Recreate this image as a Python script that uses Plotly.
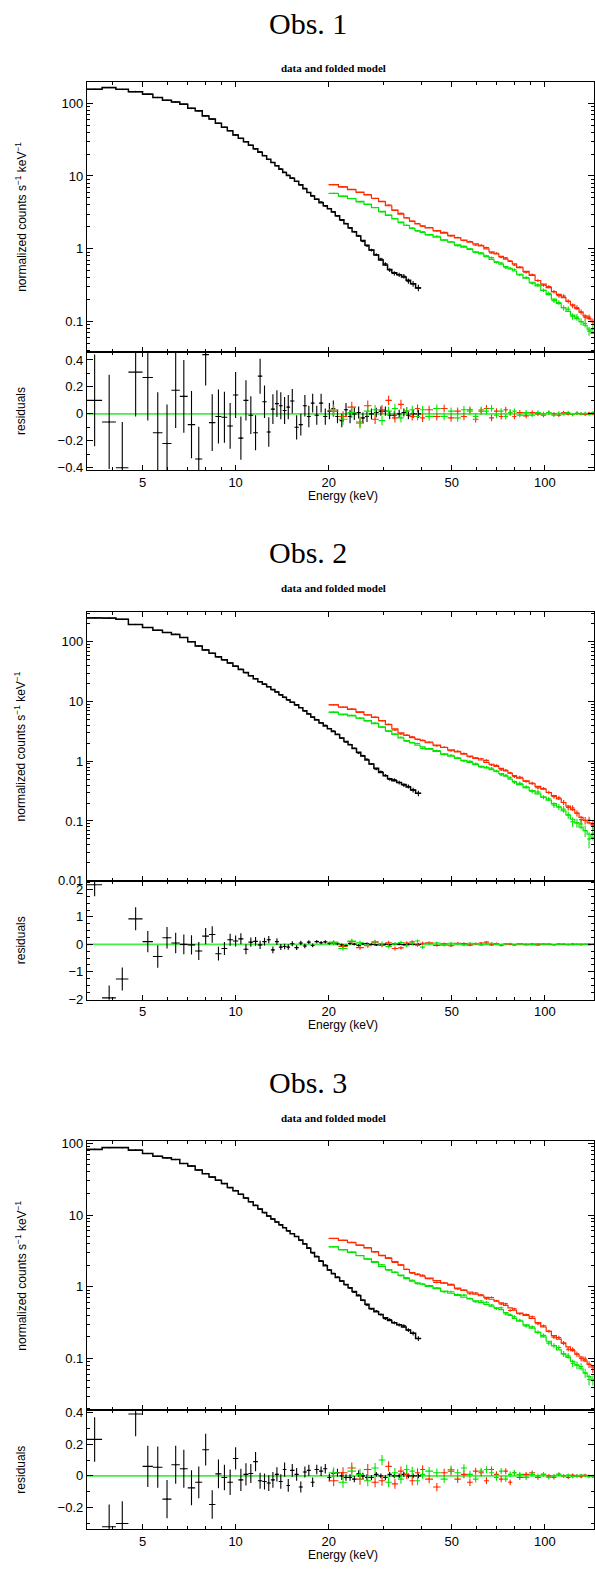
import plotly.graph_objects as go

W, H = 595, 1572
RED = '#ff2a00'
GREEN = '#00e600'
BLACK = '#000000'
ZERO = '#44ee44'
SANS = 'Liberation Sans, Arial, Helvetica, sans-serif'
SERIF = 'Liberation Serif, Times New Roman, serif'

# ---------------- energy bins (keV) ----------------
black_edges = [3.3, 3.7, 4.1, 4.5, 5.0, 5.4, 5.8, 6.2, 6.6, 7.0,
               7.4, 7.8, 8.2, 8.6, 9.0, 9.4, 9.8, 10.2, 10.6, 11.0,
               11.4, 11.8, 12.2, 12.6, 13.0, 13.4, 13.8, 14.2, 14.6, 15.0,
               15.5, 16.0, 16.5, 17.0, 17.5, 18.0, 18.6, 19.2, 19.8, 20.4,
               21.0, 21.7, 22.4, 23.1, 23.8, 24.6, 25.4, 26.2, 27.0, 28.0,
               29.0, 30.0, 31.0, 32.0, 33.2, 34.4, 35.6, 36.8, 38.2, 39.8]
hard_edges = [20.0, 21.5, 23.0, 24.5, 26.0, 27.5, 29.0, 30.5, 32.0, 33.5,
              35.0, 36.5, 38.0, 39.5, 41.0, 43.5, 46.0, 48.5, 51.0, 53.5,
              56.0, 58.5, 61.0, 63.5, 66.0, 68.5, 71.0, 73.5, 76.0, 78.5,
              81.0, 85.0, 89.0, 93.0, 97.0, 101.0, 105.0, 109.0, 113.0, 117.0,
              121.0, 125.0, 129.0, 133.0, 137.0, 141.0, 145.0, 149.0]

# ---------------- Obs. 1 ----------------
obs1_black = [155, 164, 155, 144, 133, 120, 110, 104, 97, 85,
              78.5, 67, 60.5, 53, 46.6, 41.9, 36.6, 33, 29.5, 26.5,
              23.7, 21.2, 19.0, 17.0, 15.3, 13.8, 12.4, 11.2, 10.2, 9.3,
              8.5, 7.6, 6.7, 5.95, 5.3, 4.8, 4.3, 3.9, 3.55, 3.2,
              2.85, 2.5, 2.2, 1.95, 1.72, 1.5, 1.3, 1.12, 0.96, 0.82,
              0.7, 0.6, 0.52, 0.47, 0.44, 0.41, 0.37, 0.33, 0.29]
obs1_black_res = [0.10, -0.06, -0.40, 0.31, 0.27, -0.14, -0.22, 0.175, 0.13, -0.08,
                  -0.335, 0.44, -0.065, -0.02, -0.025, -0.09, 0.14, -0.18, 0.10, -0.01,
                  -0.14, 0.28, 0.09, -0.135, 0.035, 0.076, 0.06, 0.025, 0.05, 0.095,
                  -0.10, -0.08, 0.06, -0.02, 0.08, -0.01, 0.08, -0.02, 0.02, 0.04,
                  -0.02, -0.05, 0.03, -0.02, 0.0, 0.01, -0.03, -0.02, 0.0, 0.01,
                  0.02, 0.02, -0.01, -0.01, 0.0, 0.01, -0.01, 0.0, 0.0]
obs1_black_err = [0.34, 0.35, 0.34, 0.33, 0.32, 0.30, 0.29, 0.28, 0.27, 0.25,
                  0.24, 0.23, 0.21, 0.20, 0.19, 0.17, 0.17, 0.16, 0.15, 0.14,
                  0.13, 0.13, 0.12, 0.11, 0.11, 0.10, 0.10, 0.10, 0.09, 0.09,
                  0.09, 0.08, 0.08, 0.08, 0.07, 0.07, 0.07, 0.06, 0.06, 0.06,
                  0.05, 0.05, 0.05, 0.05, 0.045, 0.045, 0.04, 0.04, 0.04, 0.035,
                  0.035, 0.035, 0.03, 0.03, 0.03, 0.03, 0.03, 0.03, 0.03]
obs1_red = [7.6, 7.1, 6.5, 6.0, 5.5, 4.95, 4.45, 3.9, 3.4, 3.0,
            2.65, 2.4, 2.19, 2.07, 1.93, 1.78, 1.64, 1.53, 1.41, 1.32,
            1.23, 1.17, 1.10, 1.0, 0.91, 0.85, 0.785, 0.72, 0.67, 0.62,
            0.55, 0.49, 0.43, 0.367, 0.327, 0.292, 0.257, 0.237, 0.214, 0.19,
            0.17, 0.151, 0.135, 0.12, 0.11, 0.1, 0.091]
obs1_green = [5.75, 5.3, 4.9, 4.47, 4.07, 3.67, 3.27, 2.88, 2.57, 2.32,
              2.09, 1.9, 1.78, 1.68, 1.57, 1.45, 1.33, 1.23, 1.135, 1.05,
              0.98, 0.91, 0.85, 0.78, 0.716, 0.66, 0.617, 0.57, 0.53, 0.495,
              0.447, 0.394, 0.347, 0.309, 0.269, 0.234, 0.204, 0.178, 0.155, 0.138,
              0.123, 0.11, 0.1, 0.089, 0.079, 0.069, 0.063]
obs1_red_res = [0.02, -0.02, 0.05, -0.06, 0.06, -0.04, 0.03, 0.10, -0.03, 0.07,
                0.02, -0.02, 0.04, -0.03, 0.03, -0.02, 0.04, -0.03, 0.02, -0.02,
                0.03, -0.04, 0.02, 0.04, -0.03, 0.02, -0.02, 0.03, 0.01, -0.02,
                0.01, -0.015, 0.01, 0.0, -0.01, 0.01, 0.0, -0.01, 0.01, 0.0,
                -0.005, 0.005, 0.0, -0.005, 0.005, 0.0, 0.0]
obs1_green_res = [0.03, -0.04, 0.01, -0.07, 0.02, 0.03, -0.05, 0.02, 0.04, -0.03,
                  0.02, 0.03, -0.02, 0.03, -0.02, 0.04, -0.02, 0.02, -0.03, 0.03,
                  0.02, -0.02, 0.03, 0.02, 0.04, -0.01, 0.02, -0.02, 0.01, 0.02,
                  -0.01, 0.01, -0.01, 0.01, 0.0, 0.01, -0.01, 0.005, 0.0, 0.01,
                  -0.005, 0.005, 0.0, 0.005, -0.005, 0.01, 0.0]
obs1_hard_err = [0.04, 0.04, 0.04, 0.04, 0.04, 0.035, 0.035, 0.035, 0.035, 0.035,
                 0.03, 0.03, 0.03, 0.03, 0.03, 0.03, 0.028, 0.028, 0.028, 0.028,
                 0.025, 0.025, 0.025, 0.025, 0.025, 0.022, 0.022, 0.022, 0.022, 0.02,
                 0.018, 0.018, 0.016, 0.016, 0.015, 0.015, 0.014, 0.014, 0.013, 0.013,
                 0.012, 0.012, 0.011, 0.011, 0.01, 0.01, 0.01]

# ---------------- Obs. 2 ----------------
obs2_black = [250, 250, 238, 194, 173, 156, 143, 133, 118, 100,
              85, 73, 64, 56, 50, 44, 39, 34.5, 30.5, 27,
              24, 21.5, 19.5, 17.6, 15.9, 14.4, 13.0, 11.8, 10.7, 9.7,
              8.8, 7.9, 7.0, 6.2, 5.5, 4.9, 4.35, 3.9, 3.5, 3.15,
              2.8, 2.45, 2.15, 1.88, 1.64, 1.42, 1.22, 1.05, 0.9, 0.76,
              0.65, 0.57, 0.51, 0.47, 0.44, 0.41, 0.37, 0.33, 0.29]
obs2_black_res = [2.17, -1.95, -1.26, 0.93, 0.10, -0.44, 0.24, 0.05, 0.0, -0.02,
                  -0.24, 0.30, 0.36, -0.34, -0.15, 0.17, 0.12, 0.20, -0.18, 0.08,
                  0.11, -0.02, 0.10, 0.17, -0.20, 0.10, -0.10, -0.08, -0.10, 0.02,
                  -0.12, 0.05, -0.06, 0.08, -0.04, 0.10, 0.06, 0.09, 0.04, 0.06,
                  0.02, -0.02, -0.05, 0.03, 0.01, -0.04, 0.02, 0.03, 0.0, -0.02,
                  0.02, 0.01, -0.01, 0.02, 0.0, -0.01, 0.01, 0.0, 0.0]
obs2_black_err = [0.42, 0.45, 0.42, 0.42, 0.39, 0.41, 0.39, 0.37, 0.36, 0.35,
                  0.33, 0.30, 0.30, 0.25, 0.24, 0.22, 0.20, 0.20, 0.18, 0.17,
                  0.16, 0.15, 0.14, 0.13, 0.12, 0.12, 0.11, 0.10, 0.10, 0.09,
                  0.09, 0.08, 0.08, 0.07, 0.07, 0.06, 0.06, 0.06, 0.05, 0.05,
                  0.05, 0.05, 0.045, 0.045, 0.04, 0.04, 0.04, 0.035, 0.035, 0.035,
                  0.03, 0.03, 0.03, 0.03, 0.03, 0.03, 0.03, 0.03, 0.03]
obs2_red = [8.8, 8.1, 7.4, 6.7, 6.0, 5.4, 4.8, 4.1, 3.5, 3.0,
            2.7, 2.48, 2.34, 2.21, 2.04, 1.86, 1.70, 1.55, 1.43, 1.32,
            1.22, 1.12, 1.05, 0.955, 0.89, 0.82, 0.76, 0.69, 0.63, 0.575,
            0.52, 0.47, 0.42, 0.38, 0.34, 0.30, 0.266, 0.234, 0.204, 0.178,
            0.155, 0.135, 0.115, 0.102, 0.093, 0.086, 0.079]
obs2_green = [6.6, 6.17, 5.75, 5.25, 4.79, 4.27, 3.72, 3.24, 2.82, 2.45,
              2.21, 2.02, 1.86, 1.74, 1.6, 1.46, 1.33, 1.22, 1.12, 1.035,
              0.955, 0.88, 0.82, 0.776, 0.724, 0.676, 0.624, 0.562, 0.5, 0.457,
              0.407, 0.363, 0.324, 0.285, 0.251, 0.224, 0.195, 0.172, 0.148, 0.126,
              0.107, 0.093, 0.079, 0.069, 0.06, 0.052, 0.047]
obs2_red_res = [0.05, -0.08, 0.10, -0.12, -0.05, 0.08, -0.04, 0.06, -0.15, -0.13,
                0.05, 0.09, -0.03, 0.04, 0.06, -0.04, 0.02, -0.05, 0.04, 0.03,
                -0.03, 0.02, 0.05, 0.08, -0.02, 0.03, -0.04, 0.02, 0.01, -0.02,
                0.02, -0.01, 0.01, -0.02, 0.01, 0.0, -0.01, 0.01, 0.0, -0.01,
                0.01, 0.0, -0.01, 0.0, 0.01, 0.0, -0.01]
obs2_green_res = [0.08, -0.15, 0.12, 0.06, -0.04, 0.10, 0.03, -0.08, 0.02, 0.07,
                  -0.05, 0.04, 0.12, -0.10, 0.03, 0.05, -0.03, 0.04, 0.02, -0.02,
                  0.04, 0.03, -0.02, 0.02, 0.04, 0.01, -0.03, 0.02, 0.03, -0.01,
                  0.02, 0.01, -0.01, 0.02, 0.0, 0.01, -0.01, 0.0, 0.01, 0.0,
                  -0.01, 0.0, 0.01, 0.0, -0.01, 0.01, 0.0]
obs2_hard_err = [0.08, 0.08, 0.08, 0.08, 0.07, 0.07, 0.07, 0.07, 0.07, 0.06,
                 0.06, 0.06, 0.06, 0.06, 0.05, 0.05, 0.05, 0.05, 0.045, 0.045,
                 0.04, 0.04, 0.04, 0.04, 0.035, 0.035, 0.035, 0.03, 0.03, 0.03,
                 0.03, 0.025, 0.025, 0.025, 0.02, 0.02, 0.02, 0.02, 0.02, 0.018,
                 0.018, 0.016, 0.016, 0.015, 0.015, 0.015, 0.015]

# ---------------- Obs. 3 ----------------
obs3_black = [82, 87, 87, 80, 72, 66, 62.7, 59.4, 52.3, 48.1,
              42.4, 37.7, 33.9, 30.5, 27.4, 24.1, 21.8, 19.4, 17.2, 15.3,
              13.6, 12.1, 10.8, 9.7, 8.8, 8.0, 7.3, 6.65, 6.05, 5.5,
              5.0, 4.5, 3.95, 3.45, 3.0, 2.62, 2.27, 1.97, 1.72, 1.52,
              1.35, 1.2, 1.08, 0.97, 0.86, 0.75, 0.65, 0.57, 0.5, 0.45,
              0.41, 0.37, 0.34, 0.315, 0.295, 0.275, 0.25, 0.225, 0.19]
obs3_black_res = [0.23, -0.32, -0.30, 0.39, 0.06, 0.055, -0.146, 0.07, 0.045, -0.075,
                  -0.04, 0.165, -0.18, 0.013, -0.01, -0.04, 0.11, -0.025, 0.01, 0.015,
                  0.09, -0.03, -0.035, -0.045, -0.025, 0.01, -0.035, 0.04, -0.06, 0.035,
                  0.01, -0.07, 0.025, 0.035, -0.04, 0.04, 0.03, 0.045, -0.01, 0.015,
                  0.02, 0.0, -0.01, -0.01, -0.02, 0.015, 0.0, -0.01, -0.01, 0.01,
                  0.0, -0.01, 0.01, 0.0, 0.0, 0.01, 0.0, 0.0, 0.0]
obs3_black_err = [0.14, 0.14, 0.14, 0.14, 0.13, 0.13, 0.12, 0.12, 0.12, 0.11,
                  0.10, 0.10, 0.09, 0.09, 0.08, 0.08, 0.07, 0.07, 0.07, 0.06,
                  0.06, 0.05, 0.05, 0.05, 0.05, 0.045, 0.045, 0.045, 0.04, 0.04,
                  0.04, 0.035, 0.035, 0.035, 0.03, 0.03, 0.03, 0.03, 0.025, 0.025,
                  0.025, 0.025, 0.02, 0.02, 0.02, 0.02, 0.02, 0.02, 0.015, 0.015,
                  0.015, 0.015, 0.015, 0.015, 0.015, 0.015, 0.015, 0.015, 0.015]
obs3_red = [4.73, 4.42, 4.12, 3.8, 3.47, 3.09, 2.75, 2.48, 2.24, 2.0,
            1.74, 1.58, 1.48, 1.41, 1.32, 1.22, 1.12, 1.05, 0.955, 0.89,
            0.84, 0.79, 0.75, 0.71, 0.67, 0.63, 0.596, 0.55, 0.507, 0.473,
            0.43, 0.4, 0.363, 0.316, 0.275, 0.24, 0.209, 0.186, 0.164, 0.145,
            0.129, 0.115, 0.105, 0.093, 0.083, 0.076, 0.069]
obs3_green = [3.59, 3.31, 3.02, 2.72, 2.45, 2.19, 1.93, 1.74, 1.58, 1.45,
              1.3, 1.2, 1.135, 1.084, 1.01, 0.944, 0.871, 0.813, 0.759, 0.716,
              0.676, 0.638, 0.603, 0.569, 0.537, 0.507, 0.479, 0.437, 0.398, 0.363,
              0.331, 0.295, 0.266, 0.232, 0.2, 0.174, 0.151, 0.132, 0.116, 0.104,
              0.091, 0.081, 0.072, 0.063, 0.056, 0.05, 0.045]
obs3_red_res = [-0.03, 0.02, 0.05, -0.02, 0.04, -0.04, -0.03, 0.06, -0.05, 0.03,
                0.01, -0.03, 0.02, 0.04, -0.02, -0.07, 0.02, 0.03, -0.02, 0.01,
                -0.04, 0.03, 0.02, -0.03, 0.04, 0.01, -0.02, 0.03, -0.04, 0.02,
                -0.01, 0.01, 0.02, -0.01, 0.01, 0.0, -0.01, 0.01, 0.0, -0.01,
                0.005, 0.0, -0.005, 0.005, 0.0, -0.005, 0.0]
obs3_green_res = [0.02, -0.04, 0.03, 0.01, -0.03, 0.05, 0.10, -0.04, 0.02, -0.02,
                  0.04, 0.03, -0.03, 0.01, 0.03, 0.02, -0.02, 0.04, 0.02, 0.05,
                  0.01, -0.02, 0.03, 0.04, 0.02, -0.01, 0.03, -0.02, 0.01, 0.02,
                  0.01, -0.01, 0.01, 0.0, 0.01, -0.01, 0.0, 0.01, 0.0, 0.005,
                  -0.005, 0.0, 0.005, 0.0, -0.005, 0.0, 0.0]
obs3_hard_err = [0.035, 0.035, 0.035, 0.035, 0.035, 0.032, 0.032, 0.032, 0.03, 0.03,
                 0.03, 0.028, 0.028, 0.028, 0.026, 0.026, 0.025, 0.025, 0.024, 0.024,
                 0.023, 0.022, 0.022, 0.021, 0.02, 0.02, 0.02, 0.019, 0.018, 0.018,
                 0.016, 0.015, 0.014, 0.014, 0.013, 0.012, 0.012, 0.011, 0.011, 0.01,
                 0.01, 0.01, 0.009, 0.009, 0.009, 0.008, 0.008]

titles = ['Obs. 1', 'Obs. 2', 'Obs. 3']
subtitle = 'data and folded model'
x_tickvals = [5, 10, 20, 50, 100]
x_ticktext = ['5', '10', '20', '50', '100']
x_minor = [4, 6, 7, 8, 9, 30, 40, 60, 70, 80, 90]
upper_tickvals = [[0.1, 1, 10, 100], [0.01, 0.1, 1, 10, 100], [0.1, 1, 10, 100]]
upper_ticktext = [['0.1', '1', '10', '100'], ['0.01', '0.1', '1', '10', '100'], ['0.1', '1', '10', '100']]
res_tickvals = [[-0.4, -0.2, 0, 0.2, 0.4], [-2, -1, 0, 1, 2], [-0.2, 0, 0.2, 0.4]]
res_ticktext = [['\u22120.4', '\u22120.2', '0', '0.2', '0.4'],
                ['\u22122', '\u22121', '0', '1', '2'],
                ['\u22120.2', '0', '0.2', '0.4']]
res_minor_dtick = [0.1, 0.25, 0.1]

observations = [
    (obs1_black, obs1_black_res, obs1_black_err, obs1_red, obs1_green,
     obs1_red_res, obs1_green_res, obs1_hard_err),
    (obs2_black, obs2_black_res, obs2_black_err, obs2_red, obs2_green,
     obs2_red_res, obs2_green_res, obs2_hard_err),
    (obs3_black, obs3_black_res, obs3_black_err, obs3_red, obs3_green,
     obs3_red_res, obs3_green_res, obs3_hard_err),
]

# ---------------- layout geometry (pixels) ----------------
panel_px = [(77.7, 349.3, 469.0), (611.7, 882.7, 1002.3), (1145.0, 1416.0, 1536.0)]
upper_range = [(-1.413, 2.29), (-2.004, 2.498), (-1.72, 2.028)]
res_range = [(-0.42, 0.462), (-2.015, 2.31), (-0.336, 0.414)]
title_px = [19, 551.5, 1086]
sub_px = [63, 587, 1122]
xtitle_px = [494.5, 1028, 1561.5]
X_RANGE = [0.5189, 2.159]
X_DOM = [87 / W, 1.0]

minor_log = [k * 10 ** d for d in range(-3, 4) for k in range(2, 10)]


def fy(px):
    return 1 - px / H


def centers(edges):
    return [(a + b) / 2 for a, b in zip(edges[:-1], edges[1:])]


def halfw(edges):
    return [(b - a) / 2 for a, b in zip(edges[:-1], edges[1:])]


def cross(edges, y, err, color, xa, ya, logy, th=1.1):
    em = [min(e, 0.97 * v) for e, v in zip(err, y)] if logy else err
    return go.Scatter(
        x=centers(edges), y=y, mode='markers',
        marker=dict(size=1.5, color=color),
        error_x=dict(type='data', array=halfw(edges), width=0, thickness=th, color=color),
        error_y=dict(type='data', array=err, arrayminus=em, symmetric=False,
                     width=0, thickness=th, color=color),
        xaxis=xa, yaxis=ya, showlegend=False, hoverinfo='skip')


def step(edges, y, color, xa, ya, w=1.3):
    return go.Scatter(x=edges, y=list(y) + [y[-1]], mode='lines', line_shape='hv',
                      line=dict(color=color, width=w), xaxis=xa, yaxis=ya,
                      showlegend=False, hoverinfo='skip')


fig = go.Figure()
layout = dict(width=W, height=H, margin=dict(l=0, r=0, t=0, b=0),
              paper_bgcolor='white', plot_bgcolor='white', showlegend=False)
annotations = []
shapes = []

axis_common = dict(showline=True, linecolor='black', linewidth=1, mirror='ticks',
                   ticks='inside', tickcolor='black', tickwidth=1, showgrid=False,
                   zeroline=False, tickfont=dict(family=SANS, size=13, color='black'))

for i, obs in enumerate(observations):
    (blk, blk_res, blk_err, red, grn, red_res, grn_res, h_err) = obs
    ku, kr = 2 * i + 1, 2 * i + 2
    xu = 'x' if ku == 1 else 'x%d' % ku
    yu = 'y' if ku == 1 else 'y%d' % ku
    xr, yr = 'x%d' % kr, 'y%d' % kr
    top, mid, bot = panel_px[i]

    # upper panel: data and folded model
    blk_data = [m + r for m, r in zip(blk, blk_res)]
    red_data = [m + r for m, r in zip(red, red_res)]
    grn_data = [m + r for m, r in zip(grn, grn_res)]
    fig.add_trace(cross(black_edges, blk_data, blk_err, BLACK, xu, yu, True))
    fig.add_trace(step(black_edges, blk, BLACK, xu, yu, 1.5))
    fig.add_trace(cross(hard_edges, red_data, h_err, RED, xu, yu, True))
    fig.add_trace(step(hard_edges, red, RED, xu, yu, 1.2))
    fig.add_trace(cross(hard_edges, grn_data, h_err, GREEN, xu, yu, True))
    fig.add_trace(step(hard_edges, grn, GREEN, xu, yu, 1.2))

    # residual panel
    fig.add_trace(cross(black_edges, blk_res, blk_err, BLACK, xr, yr, False))
    fig.add_trace(cross(hard_edges, red_res, h_err, RED, xr, yr, False))
    fig.add_trace(cross(hard_edges, grn_res, h_err, GREEN, xr, yr, False))

    shapes.append(dict(type='line', xref='%s domain' % xr, yref=yr, x0=0, x1=1, y0=0, y1=0,
                       line=dict(color=ZERO, width=1.6), layer='below'))

    xkey_u = 'xaxis' if ku == 1 else 'xaxis%d' % ku
    ykey_u = 'yaxis' if ku == 1 else 'yaxis%d' % ku
    layout[xkey_u] = dict(axis_common, type='log', range=X_RANGE, domain=X_DOM, anchor=yu,
                          tickvals=x_tickvals, ticktext=x_ticktext, ticklen=5,
                          showticklabels=False,
                          minor=dict(ticks='inside', ticklen=3, tickvals=x_minor,
                                     tickcolor='black', showgrid=False))
    layout[ykey_u] = dict(axis_common, type='log', range=list(upper_range[i]),
                          domain=[fy(mid), fy(top)], anchor=xu,
                          tickvals=upper_tickvals[i], ticktext=upper_ticktext[i], ticklen=6,
                          minor=dict(ticks='inside', ticklen=3, tickvals=minor_log,
                                     tickcolor='black', showgrid=False))
    layout['xaxis%d' % kr] = dict(axis_common, type='log', range=X_RANGE, domain=X_DOM,
                                  anchor=yr, tickvals=x_tickvals, ticktext=x_ticktext,
                                  ticklen=5,
                                  minor=dict(ticks='inside', ticklen=3, tickvals=x_minor,
                                             tickcolor='black', showgrid=False))
    layout['yaxis%d' % kr] = dict(axis_common, range=list(res_range[i]),
                                  domain=[fy(bot), fy(mid)], anchor=xr,
                                  tickvals=res_tickvals[i], ticktext=res_ticktext[i], ticklen=6,
                                  minor=dict(ticks='inside', ticklen=3, dtick=res_minor_dtick[i],
                                             tick0=0, tickcolor='black', showgrid=False))

    annotations += [
        dict(text=titles[i], x=309 / W, y=fy(title_px[i]), xref='paper', yref='paper',
             showarrow=False, xanchor='center', yanchor='middle',
             font=dict(family=SERIF, size=30, color='black')),
        dict(text='<b>%s</b>' % subtitle, x=334.5 / W, y=fy(sub_px[i]), xref='paper',
             yref='paper', showarrow=False, xanchor='center', yanchor='middle',
             font=dict(family=SERIF, size=11, color='black')),
        dict(text='normalized counts s<sup>\u22121</sup> keV<sup>\u22121</sup>',
             x=21 / W, y=fy((top + mid) / 2), xref='paper', yref='paper', textangle=-90,
             showarrow=False, xanchor='center', yanchor='middle',
             font=dict(family=SANS, size=12, color='black')),
        dict(text='residuals', x=21 / W, y=fy((mid + bot) / 2), xref='paper', yref='paper',
             textangle=-90, showarrow=False, xanchor='center', yanchor='middle',
             font=dict(family=SANS, size=12, color='black')),
        dict(text='Energy (keV)', x=344 / W, y=fy(xtitle_px[i]), xref='paper', yref='paper',
             showarrow=False, xanchor='center', yanchor='middle',
             font=dict(family=SANS, size=12, color='black')),
    ]

layout['annotations'] = annotations
layout['shapes'] = shapes
fig.update_layout(**layout)
fig.write_html('out.html',
               config={'displayModeBar': False, 'responsive': False},
               post_script="document.body.style.margin='0';"
                           "document.body.style.padding='0';"
                           "document.body.style.overflow='hidden';")
